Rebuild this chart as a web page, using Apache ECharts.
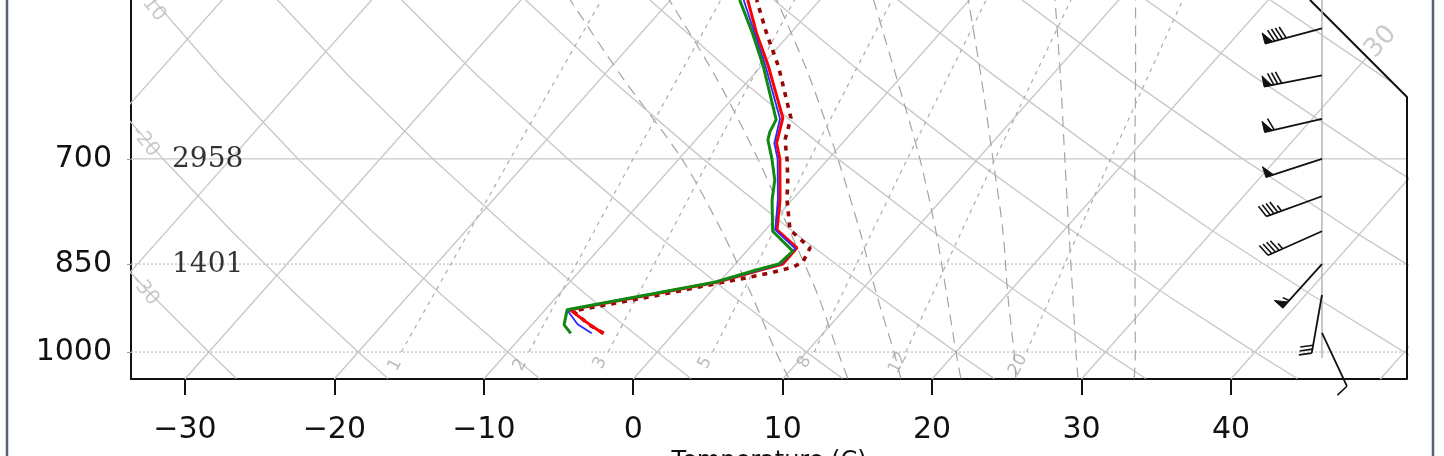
<!DOCTYPE html>
<html><head><meta charset="utf-8">
<script src="https://cdn.jsdelivr.net/npm/echarts@6/dist/echarts.min.js"></script>
<style>html,body{margin:0;padding:0;background:#fff;}#c{width:1444px;height:456px;}</style>
</head><body><div id="c"></div>
<script>
// ---------- axis / ticks ----------
const X_TICKS = [-30, -20, -10, 0, 10, 20, 30, 40];
const P_TICKS = [700, 850, 1000];
const X_MIN = -33.61, X_MAX = 51.78;
const P_BOTTOM = 1051, P_TOP = 522;
const SKEW = 74; // degC per decade of pressure
const ISOBAR_SOLID = [700];
const ISOBAR_DOTTED = [850, 1000];

// ---------- background diagram ----------
const ISOTHERMS = [-50, -40, -30, -20, -10, 0, 10, 20, 30, 40, 50];
const LEVELS = [1050, 1000, 900, 800, 700, 600, 520];
const DRY_THETA = [-30, -20, -10, 0, 10, 20, 30, 40, 50, 60, 70, 80, 90];
const DRY_T = [
  [-26.59, -30, -37.21, -45.02, -53.56, -63.02, -71.43],
  [-16.45, -20, -27.51, -35.64, -44.53, -54.38, -63.14],
  [-6.31, -10, -17.80, -26.25, -35.49, -45.73, -54.84],
  [3.83, 0, -8.10, -16.87, -26.46, -37.09, -46.55],
  [13.97, 10, 1.60, -7.49, -17.43, -28.45, -38.25],
  [24.11, 20, 11.31, 1.89, -8.40, -19.81, -29.96],
  [34.26, 30, 21.01, 11.27, 0.63, -11.17, -21.66],
  [44.40, 40, 30.71, 20.66, 9.66, -2.52, -13.36],
  [54.54, 50, 40.42, 30.04, 18.69, 6.12, -5.07],
  [64.68, 60, 50.12, 39.42, 27.72, 14.76, 3.23],
  [74.82, 70, 59.83, 48.81, 36.76, 23.41, 11.52],
  [84.96, 80, 69.53, 58.18, 45.79, 32.04, 19.82],
  [95.10, 90, 79.23, 67.57, 54.82, 40.69, 28.11]
];
const MOIST_TW = [8, 12, 16, 20, 24, 28, 32];
const MOIST_T = [
  [10.38, 7.95, 2.94, -2.84, -9.81, -18.84, -26.92],
  [14.33, 12.10, 7.37, 1.71, -4.72, -12.55, -20.29],
  [17.88, 15.85, 11.31, 6.40, 0.63, -6.26, -13.07],
  [21.89, 20.00, 16.00, 11.48, 6.12, -0.44, -6.57],
  [25.58, 23.88, 20.08, 15.97, 11.01, 5.25, -0.22],
  [29.73, 28.03, 24.43, 20.38, 15.82, 10.57, 5.60],
  [33.50, 32.00, 28.60, 24.80, 20.50, 15.60, 11.00]
];
const MIX_W = ['1', '2', '3', '5', '8', '12', '20'];
const MIX_LEVELS = [1000, 700, 520];
const MIX_T = [
  [-17.12, -21.30, -24.66],
  [-8.58, -13.07, -16.68],
  [-3.28, -7.97, -11.75],
  [3.72, -1.24, -5.23],
  [10.51, 5.28, 1.07],
  [16.64, 11.15, 6.74],
  [24.72, 18.88, 14.22]
];
const MIX_LABEL_T = [-16.77, -8.41, -3.18, 3.85, 10.48, 16.77, 24.92];
const MIX_LABEL_P = [1024, 1024, 1020, 1020, 1019, 1020, 1024];
const DRY_LABELS = ['-30', '-20', '-10'];
const DRY_LABEL_T = [-37.96, -46.75, -54.35];
const DRY_LABEL_P = [892, 678, 528];
const ISO_LABELS = ['30'];
const ISO_LABEL_T = [30.03];
const ISO_LABEL_P = [564];
const FRAME_X = [51.78, 51.78, 45.29];
const FRAME_P = [1051, 624.4, 522];

// ---------- sounding profiles ----------
const RED_P = [966, 951, 934, 925, 879, 861, 850, 825, 798, 755, 700, 680, 649, 590, 555, 522];
const RED_T = [-4.75, -6.10, -7.56, -8.33, -0.15, 1.87, 3.19, 3.18, 0.77, -0.81, -3.25, -4.40, -5.48, -9.51, -12.27, -14.83];
const BLUE_P = [966, 950, 929, 925, 879, 861, 850, 826, 798, 755, 700, 680, 650, 590, 555, 522];
const BLUE_T = [-5.49, -6.97, -8.28, -8.40, -0.20, 1.80, 3.05, 3.10, 0.65, -0.95, -3.40, -4.55, -5.62, -9.70, -12.40, -15.10];
const GREEN_P = [966, 951, 925, 879, 859, 850, 830, 800, 755, 728, 700, 676, 666, 651, 590, 555, 522];
const GREEN_T = [-6.89, -7.84, -8.53, -0.30, 1.81, 2.92, 3.09, 0.56, -1.34, -2.33, -3.78, -5.17, -5.52, -5.83, -9.85, -12.54, -15.37];
const DOT_P = [966, 951, 934, 927, 903, 880, 871, 863, 855, 847, 825, 798, 755, 728, 701, 676, 649, 590, 555, 522];
const DOT_T = [-4.69, -6.17, -7.50, -8.07, -3.75, 0.11, 1.75, 3.00, 4.04, 4.41, 4.05, 1.64, -0.34, -1.46, -2.72, -4.03, -4.94, -8.84, -11.60, -14.23];

// geopotential heights
const HGT_P = [700, 850];
const HGT_V = ['2958', '1401'];

// ---------- winds ----------
const BARB_X = 46.09;
const BARB_P = [550, 600, 650, 700, 750, 800, 850, 900, 965];
const BARB_DIR = [255, 259, 257, 252, 250, 246, 222, 190, 155];
const BARB_SPD = [90, 80, 60, 50, 45, 45, 55, 30, 10];
const BARB_TOP = 500, BARB_BOT = 1011;

// ---------- helpers ----------
function sx(T, p) { return T + SKEW * (Math.log10(P_BOTTOM) - Math.log10(p)); }
const series = [];
function addLine(data, lineStyle, z, extra) {
  series.push(Object.assign({
    type: 'line', data: data, symbol: 'none', silent: true, animation: false,
    lineStyle: lineStyle, z: z, clip: true
  }, extra || {}));
}
const GRID_GRAY = '#c9c9c9';

// isobars
ISOBAR_SOLID.forEach(p => addLine([[X_MIN, p], [X_MAX, p]], { color: GRID_GRAY, width: 1.3 }, 2));
ISOBAR_DOTTED.forEach(p => addLine([[X_MIN, p], [X_MAX, p]], { color: '#c4c4c4', width: 1.3, type: [2, 2] }, 2));
// isotherms
ISOTHERMS.forEach(T => addLine([[sx(T, P_BOTTOM), P_BOTTOM], [sx(T, 500), 500]], { color: GRID_GRAY, width: 1.4 }, 2));
// dry adiabats
DRY_T.forEach(row => addLine(row.map((T, i) => [sx(T, LEVELS[i]), LEVELS[i]]), { color: GRID_GRAY, width: 1.4 }, 2));
// moist adiabats
MOIST_T.forEach(row => addLine(row.map((T, i) => [sx(T, LEVELS[i]), LEVELS[i]]), { color: '#a4a4a4', width: 1.2, type: [11, 7] }, 2, { smooth: 0.3 }));
// mixing ratio
MIX_T.forEach(row => addLine(row.map((T, i) => [sx(T, MIX_LEVELS[i]), MIX_LEVELS[i]]), { color: '#acacac', width: 1.2, type: [4, 5] }, 2));

// mask above diagonal boundary
series.push({
  type: 'custom', z: 4, silent: true, animation: false, clip: false,
  data: [[FRAME_X[1], FRAME_P[1]]],
  renderItem: function (params, api) {
    const a = api.coord([FRAME_X[2], FRAME_P[2]]);
    const b = api.coord([FRAME_X[1], FRAME_P[1]]);
    const c = api.coord([FRAME_X[1], FRAME_P[2]]);
    return { type: 'polygon', shape: { points: [[a[0], a[1] - 3], b, [c[0] + 3, b[1]], [c[0] + 3, c[1] - 3]] }, style: { fill: '#ffffff' } };
  }
});
// frame (right side + diagonal)
addLine(FRAME_X.map((x, i) => [x, FRAME_P[i]]), { color: '#111', width: 2 }, 5, { clip: false });

// labels on diagram
function addLabels(texts, Ts, Ps, rot, fs, color, z) {
  series.push({
    type: 'scatter', symbolSize: 0, silent: true, animation: false, z: z,
    data: texts.map((t, i) => ({ value: [sx(Ts[i], Ps[i]), Ps[i]], name: t })),
    label: { show: true, position: 'inside', formatter: '{b}', rotate: rot, fontSize: fs, color: color, fontFamily: 'DejaVu Sans' }
  });
}
addLabels(DRY_LABELS, DRY_LABEL_T, DRY_LABEL_P, -52, 20, '#bdbdbd', 6);
addLabels(ISO_LABELS, ISO_LABEL_T, ISO_LABEL_P, 48, 26, '#bdbdbd', 6);
addLabels(MIX_W, MIX_LABEL_T, MIX_LABEL_P, 62, 17, '#aaaaaa', 6);

// heights
series.push({
  type: 'scatter', symbolSize: 0, silent: true, animation: false, z: 7,
  data: HGT_P.map((p, i) => ({ value: [X_MIN, p], name: HGT_V[i] })),
  label: { show: true, position: 'inside', align: 'left', offset: [41, 1], formatter: '{b}', fontSize: 28, color: '#000', fontFamily: 'DejaVu Serif' }
});

// profiles
addLine(DOT_P.map((p, i) => [sx(DOT_T[i], p), p]), { color: '#940808', width: 3.6, type: [5, 6] }, 10);
addLine(RED_P.map((p, i) => [sx(RED_T[i], p), p]), { color: '#ff0000', width: 3 }, 11);
addLine(BLUE_P.map((p, i) => [sx(BLUE_T[i], p), p]), { color: '#2a2aff', width: 1.8 }, 12);
addLine(GREEN_P.map((p, i) => [sx(GREEN_T[i], p), p]), { color: '#118811', width: 3 }, 13);

// wind staff line
addLine([[BARB_X, BARB_BOT], [BARB_X, BARB_TOP]], { color: '#b5b5b5', width: 1.5 }, 6);

// wind barbs
series.push({
  type: 'custom', z: 8, silent: true, animation: false, clip: false,
  data: BARB_P.map((p, i) => [BARB_X, p, BARB_DIR[i], BARB_SPD[i]]),
  renderItem: function (params, api) {
    const st = api.coord([api.value(0), api.value(1)]);
    const d = api.value(2) * Math.PI / 180;
    let spd = api.value(3);
    const s = [Math.sin(d), -Math.cos(d)];
    const L = 59;
    const tail = [st[0] + s[0] * L, st[1] + s[1] * L];
    const f = [-s[1], s[0]];
    const a = 18 * Math.PI / 180;
    const fl = [f[0] * Math.cos(a) + s[0] * Math.sin(a), f[1] * Math.cos(a) + s[1] * Math.sin(a)];
    const kids = [{ type: 'line', shape: { x1: st[0], y1: st[1], x2: tail[0], y2: tail[1] }, style: { stroke: '#111', lineWidth: 1.8 } }];
    let pos = 0;
    const n50 = Math.floor(spd / 50); spd -= n50 * 50;
    const n10 = Math.floor(spd / 10); spd -= n10 * 10;
    const n5 = spd >= 5 ? 1 : 0;
    for (let k = 0; k < n50; k++) {
      const b1 = [tail[0] - s[0] * pos, tail[1] - s[1] * pos];
      const b2 = [tail[0] - s[0] * (pos + 8), tail[1] - s[1] * (pos + 8)];
      const ap = [b1[0] + f[0] * 11, b1[1] + f[1] * 11];
      kids.push({ type: 'polygon', shape: { points: [b1, b2, ap] }, style: { fill: '#111', stroke: '#111', lineWidth: 1 } });
      pos += 10;
    }
    for (let k = 0; k < n10; k++) {
      const p0 = [tail[0] - s[0] * pos, tail[1] - s[1] * pos];
      kids.push({ type: 'line', shape: { x1: p0[0], y1: p0[1], x2: p0[0] + fl[0] * 13, y2: p0[1] + fl[1] * 13 }, style: { stroke: '#111', lineWidth: 1.6 } });
      pos += 4;
    }
    for (let k = 0; k < n5; k++) {
      const p0 = [tail[0] - s[0] * pos, tail[1] - s[1] * pos];
      kids.push({ type: 'line', shape: { x1: p0[0], y1: p0[1], x2: p0[0] + fl[0] * 7, y2: p0[1] + fl[1] * 7 }, style: { stroke: '#111', lineWidth: 1.6 } });
    }
    return { type: 'group', children: kids };
  }
});

const chart = echarts.init(document.getElementById('c'), null, { renderer: 'canvas' });
chart.setOption({
  animation: false,
  backgroundColor: '#ffffff',
  grid: { left: 131, right: 37, top: 0, bottom: 77, containLabel: false, outerBoundsMode: 'none' },
  xAxis: {
    type: 'value', min: X_MIN, max: X_MAX,
    name: 'Temperature (C)', nameLocation: 'middle', nameGap: 68,
    nameTextStyle: { fontSize: 24, color: '#111', fontFamily: 'DejaVu Sans' },
    axisLine: { show: true, onZero: false, lineStyle: { color: '#111', width: 2 } },
    axisTick: { show: true, customValues: X_TICKS, length: 16, inside: false, lineStyle: { color: '#111', width: 2 } },
    axisLabel: { customValues: X_TICKS, margin: 36, fontSize: 30, color: '#111', fontFamily: 'DejaVu Sans',
      formatter: v => (v < 0 ? '\u2212' + Math.abs(v) : String(v)) },
    splitLine: { show: false }
  },
  yAxis: {
    type: 'log', logBase: 10, min: P_TOP, max: P_BOTTOM, inverse: true,
    axisLine: { show: true, onZero: false, lineStyle: { color: '#111', width: 2 } },
    axisTick: { show: true, customValues: P_TICKS, length: 4, lineStyle: { color: '#999', width: 1 } },
    axisLabel: { customValues: P_TICKS, margin: 19, fontSize: 30, color: '#111', fontFamily: 'DejaVu Sans',
      formatter: v => String(Math.round(v)) },
    splitLine: { show: false }, minorTick: { show: false }
  },
  graphic: [
    { type: 'line', shape: { x1: 7, y1: 0, x2: 7, y2: 456 }, style: { stroke: '#56616c', lineWidth: 2.5 }, z: 100 },
    { type: 'line', shape: { x1: 1433, y1: 0, x2: 1433, y2: 456 }, style: { stroke: '#56616c', lineWidth: 2.5 }, z: 100 }
  ],
  series: series
});
</script>
</body></html>
